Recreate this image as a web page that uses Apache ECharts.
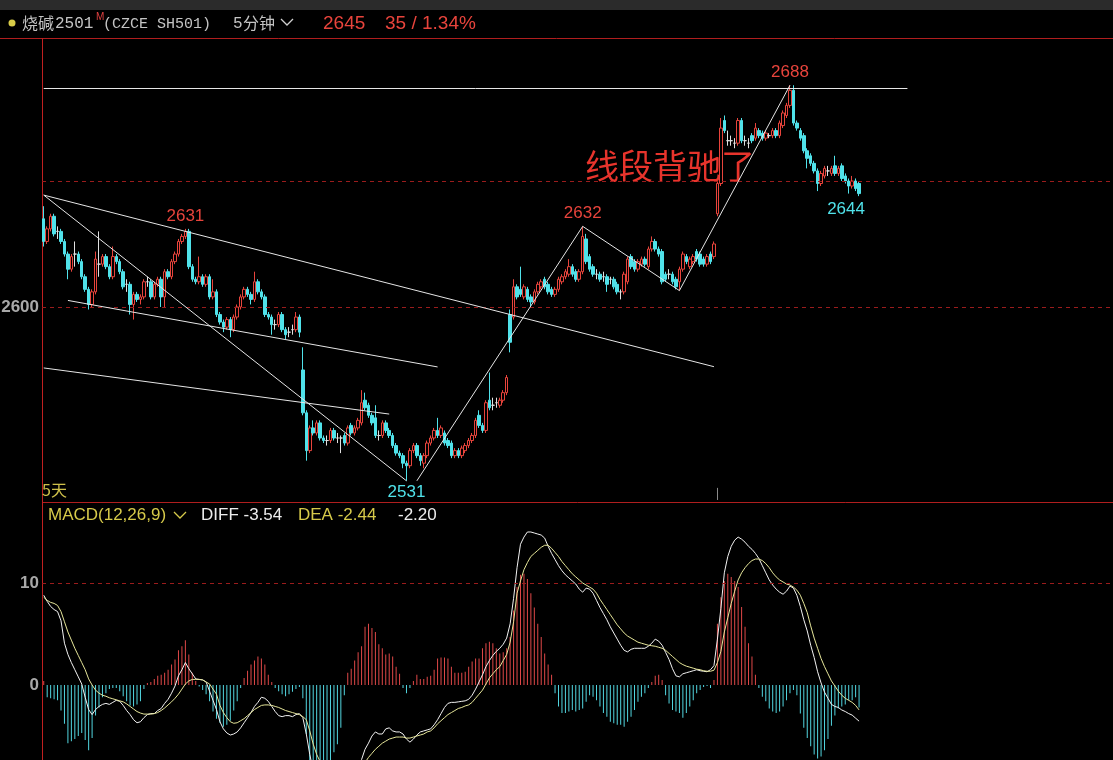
<!DOCTYPE html>
<html>
<head>
<meta charset="utf-8">
<script src="https://cdn.jsdelivr.net/npm/echarts/dist/echarts.min.js"></script>
<style>
html,body{margin:0;padding:0;background:#000;}
#chart{width:1113px;height:760px;}
</style>
</head>
<body>
<div id="chart"></div>
<script>
// ---------- DATA ----------
const SLOT_COUNT = 310; // 5-minute slots on the x axis (only the first 237 are traded so far)

const OPEN = [
2635,2626,2631,2636,2630,2630,2626,2621,2615,2621,
2621,2618,2612,2607,2601,2606,2617,2617,2620,2616,
2612,2620,2618,2614,2609,2609,2601,2605,2603,2604,
2610,2610,2604,2609,2611,2604,2614,2612,2618,2621,
2626,2628,2630,2616,2611,2610,2612,2609,2612,2604,
2606,2597,2594,2592,2595,2591,2596,2600,2604,2607,
2605,2603,2610,2606,2604,2597,2596,2593,2593,2597,
2591,2590,2591,2591,2596,2575,2558,2543,2552,2550,
2554,2548,2547,2547,2551,2548,2548,2549,2546,2553,
2550,2552,2554,2563,2561,2557,2556,2549,2549,2554,
2551,2549,2545,2542,2541,2538,2537,2543,2545,2541,
2538,2541,2546,2548,2551,2549,2550,2547,2546,2541,
2543,2541,2543,2545,2547,2549,2557,2553,2551,2563,
2561,2562,2561,2563,2566,2597,2596,2608,2607,2604,
2607,2604,2602,2606,2608,2611,2609,2607,2605,2607,
2610,2612,2613,2616,2614,2611,2614,2627,2620,2616,
2613,2613,2612,2612,2611,2611,2609,2606,2606,2610,
2620,2618,2615,2617,2619,2616,2623,2626,2623,2622,
2613,2613,2613,2611,2610,2615,2620,2616,2618,2622,
2621,2619,2617,2621,2620,2637,2649,2674,2666,2666,
2665,2665,2674,2666,2665,2668,2667,2670,2669,2667,
2668,2668,2670,2668,2672,2676,2680,2686,2673,2670,
2668,2662,2660,2657,2654,2649,2652,2654,2653,2656,
2653,2656,2652,2650,2648,2650,2649];

const CLOSE = [
2626,2631,2636,2629,2630,2626,2621,2615,2620,2621,
2618,2612,2607,2601,2606,2619,2617,2620,2616,2612,
2620,2618,2614,2608,2609,2601,2605,2603,2604,2610,
2610,2604,2609,2611,2604,2614,2612,2618,2621,2626,
2628,2630,2616,2611,2610,2612,2609,2612,2604,2606,
2597,2594,2592,2595,2591,2596,2600,2604,2607,2605,
2603,2610,2606,2604,2597,2596,2593,2593,2597,2591,
2589,2590,2591,2596,2590,2558,2543,2552,2550,2554,
2548,2547,2547,2551,2548,2548,2548,2546,2552,2550,
2552,2555,2562,2560,2557,2554,2549,2549,2554,2551,
2549,2545,2542,2541,2538,2537,2543,2545,2541,2539,
2541,2546,2548,2551,2549,2552,2546,2545,2541,2543,
2541,2544,2545,2547,2549,2555,2553,2551,2562,2560,
2561,2562,2563,2566,2572,2586,2608,2604,2605,2608,
2603,2602,2606,2609,2610,2608,2606,2605,2607,2611,
2612,2614,2616,2613,2611,2614,2628,2618,2615,2613,
2613,2611,2612,2609,2611,2608,2606,2606,2613,2619,
2616,2615,2618,2619,2617,2623,2626,2623,2621,2610,
2611,2613,2610,2608,2615,2621,2618,2619,2620,2619,
2617,2617,2620,2618,2625,2649,2671,2670,2666,2666,
2665,2674,2666,2666,2665,2666,2671,2668,2667,2669,
2668,2670,2668,2673,2677,2680,2686,2673,2671,2667,
2662,2659,2657,2654,2649,2653,2655,2654,2655,2653,
2655,2651,2650,2648,2650,2647,2645];

const LOW = [
2624,2625,2630,2628,2627,2625,2620,2611,2614,2616,
2617,2611,2606,2599,2600,2605,2612,2616,2615,2611,
2611,2617,2613,2607,2606,2597,2595,2602,2601,2603,
2608,2603,2603,2608,2600,2600,2611,2611,2617,2620,
2625,2627,2615,2610,2609,2609,2608,2608,2603,2603,
2596,2593,2590,2591,2588,2590,2595,2599,2603,2604,
2601,2602,2605,2603,2596,2595,2589,2591,2592,2590,
2587,2588,2589,2590,2588,2557,2539,2542,2549,2549,
2547,2546,2545,2546,2547,2546,2542,2545,2545,2549,
2549,2551,2553,2559,2556,2553,2548,2547,2548,2550,
2548,2544,2541,2540,2536,2531,2536,2542,2540,2537,
2536,2540,2545,2547,2548,2548,2545,2544,2540,2540,
2540,2540,2542,2544,2546,2548,2552,2550,2550,2559,
2559,2560,2560,2562,2565,2582,2595,2603,2604,2603,
2602,2600,2601,2605,2607,2607,2605,2604,2604,2606,
2609,2611,2612,2612,2610,2610,2613,2617,2614,2612,
2611,2610,2610,2606,2609,2607,2605,2603,2605,2609,
2615,2614,2614,2616,2616,2615,2622,2622,2620,2609,
2610,2611,2609,2607,2606.5,2614,2617,2615,2617,2618,
2616,2616,2616,2617,2619,2636,2648,2669,2664,2664,
2663,2664,2665,2664,2663,2665,2666,2667,2666,2666,
2667,2667,2667,2667,2671,2675,2679,2672,2670,2666,
2661,2655,2656,2653,2646,2648,2651,2652,2652,2652,
2652,2650,2649,2645,2647,2646,2644];

const HIGH = [
2640,2632,2637,2637,2632,2631,2627,2622,2621,2626,
2622,2619,2613,2608,2607,2622,2630,2621,2621,2617,
2624,2621,2619,2615,2611,2610,2606,2606,2605,2611,
2612,2611,2610,2612,2612,2615,2615,2619,2622,2627,
2629,2631,2631,2617,2612,2620,2613,2613,2613,2611,
2607,2598,2595,2596,2596,2597,2601,2605,2608,2608,
2606,2614,2611,2607,2605,2598,2597,2595,2598,2598,
2592,2592,2593,2598,2597,2584,2559,2553,2555,2555,
2555,2549,2549,2552,2552,2550,2549,2550,2553,2554,
2553,2556,2567,2566,2562,2558,2561,2551,2555,2555,
2552,2550,2546,2543,2542,2539,2544,2546,2546,2542,
2542,2547,2549,2552,2556,2553,2551,2548,2547,2544,
2544,2545,2546,2548,2550,2556,2559,2554,2563,2574,
2564,2564,2564,2567,2573,2599,2611,2609,2616,2609,
2608,2605,2607,2610,2611,2612,2610,2608,2608,2612,
2613,2615,2619,2617,2615,2615,2632,2629,2621,2617,
2615,2614,2614,2613,2612,2612,2610,2607,2614,2620,
2621,2619,2619,2620,2620,2624,2628,2627,2624,2623,
2614,2615,2614,2612,2616,2622,2621,2620,2621,2623,
2622,2620,2621,2622,2626,2650,2675,2676,2670,2668,
2667,2675,2675,2668,2667,2669,2673,2671,2670,2670,
2669,2671,2671,2674,2678,2681,2688,2688,2674,2671,
2669,2663,2661,2658,2655,2654,2656,2656,2656,2660,
2656,2657,2653,2651,2652,2651,2650];

const DIFF = [
8.8,8.2,7.7,7.4,7.2,6.3,4.1,3.0,2.2,1.5,
0.8,0.1,-1.2,-2.4,-2.9,-2.4,-2.1,-1.9,-1.8,-1.9,
-1.7,-1.5,-1.6,-2.0,-2.5,-2.9,-3.4,-3.7,-3.6,-3.2,
-2.9,-2.8,-2.8,-2.5,-2.3,-1.8,-1.4,-0.8,-0.1,0.9,
1.5,2.2,1.6,1.1,0.6,0.55,0.5,0.3,-0.6,-1.5,
-2.4,-3.6,-4.3,-4.7,-4.9,-4.8,-4.6,-4.2,-3.7,-3.2,
-2.7,-2.1,-1.7,-1.2,-1.3,-1.6,-2.1,-2.6,-3.0,-3.1,
-3.0,-3.0,-3.1,-2.9,-2.8,-3.2,-4.8,-6.8,-8.4,-9.3,
-10.0,-10.5,-10.9,-11.0,-11.0,-10.9,-10.8,-10.5,-10.0,-9.6,
-9.0,-8.4,-7.3,-6.3,-5.7,-5.0,-4.6,-4.8,-4.8,-4.3,
-4.2,-4.5,-4.6,-4.6,-4.8,-5.3,-5.6,-5.3,-4.9,-4.6,
-4.5,-4.4,-4.3,-3.9,-3.4,-2.8,-2.2,-1.8,-1.7,-1.7,
-1.65,-1.6,-1.55,-1.4,-1.0,-0.4,0.3,1.0,1.8,2.4,
2.9,3.3,3.6,4.0,4.6,6.0,8.5,11.5,13.8,14.5,
15.0,15.0,14.9,14.8,14.7,14.4,13.6,12.9,12.3,11.7,
11.2,10.8,10.5,10.2,9.9,9.4,9.1,9.5,9.4,9.0,
8.3,7.6,7.0,6.4,5.7,5.1,4.5,3.9,3.4,3.25,
3.5,3.6,3.6,3.6,3.6,3.8,4.1,4.5,4.3,3.9,
3.2,2.5,1.6,0.9,0.8,1.1,1.2,1.3,1.4,1.5,
1.4,1.35,1.3,1.5,1.9,4.5,7.5,11.0,12.6,13.6,
14.2,14.5,14.3,14.0,13.6,13.3,12.9,12.4,11.7,11.0,
10.3,9.8,9.4,9.1,8.9,9.2,9.7,9.5,8.8,7.7,
6.4,5.3,3.9,2.7,1.3,0.2,-0.7,-1.3,-1.9,-2.1,
-2.2,-2.45,-2.6,-2.8,-2.95,-3.25,-3.54];

const DEA = [
8.6,8.3,8.1,8.0,7.8,7.2,6.2,5.2,4.4,3.6,
2.9,2.2,1.5,0.6,0.0,-0.5,-0.8,-1.0,-1.1,-1.25,
-1.35,-1.45,-1.55,-1.65,-1.85,-2.1,-2.35,-2.6,-2.75,-2.85,
-2.85,-2.85,-2.8,-2.7,-2.5,-2.25,-1.95,-1.65,-1.3,-0.9,
-0.4,0.1,0.4,0.55,0.55,0.55,0.5,0.3,0.1,-0.4,
-0.9,-2.0,-2.7,-3.2,-3.6,-3.75,-3.7,-3.5,-3.3,-3.0,
-2.7,-2.4,-2.2,-2.0,-1.95,-1.95,-2.0,-2.1,-2.2,-2.35,
-2.5,-2.6,-2.7,-2.8,-2.9,-3.1,-3.4,-4.5,-5.8,-6.8,
-7.5,-8.0,-8.5,-8.9,-9.2,-9.4,-9.5,-9.6,-9.5,-9.3,
-9.0,-8.6,-8.1,-7.6,-7.1,-6.7,-6.3,-6.0,-5.7,-5.5,
-5.3,-5.2,-5.1,-5.1,-5.1,-5.2,-5.2,-5.1,-5.0,-4.9,
-4.8,-4.6,-4.5,-4.2,-3.8,-3.5,-3.2,-2.9,-2.7,-2.5,
-2.3,-2.2,-2.05,-1.95,-1.7,-1.3,-0.9,-0.5,0.1,0.7,
1.1,1.5,1.8,2.4,3.0,4.2,6.2,9.0,10.2,11.3,
12.0,12.6,12.9,13.2,13.5,13.7,13.7,13.4,13.0,12.6,
12.1,11.7,11.3,10.9,10.6,10.3,10.0,9.8,9.6,9.4,
9.0,8.4,7.9,7.4,6.9,6.4,5.9,5.5,5.1,4.8,
4.6,4.4,4.2,4.1,4.0,3.9,3.85,3.8,3.7,3.6,
3.4,3.1,2.8,2.5,2.2,2.0,1.85,1.75,1.65,1.55,
1.5,1.4,1.35,1.35,1.45,2.2,3.3,5.2,6.6,8.0,
9.2,10.3,11.0,11.5,11.9,12.2,12.35,12.35,12.2,11.9,
11.5,11.0,10.6,10.3,10.1,9.9,9.8,9.6,9.3,8.8,
8.0,7.1,5.8,4.6,3.6,2.6,1.8,1.1,0.4,-0.1,
-0.6,-1.0,-1.3,-1.5,-1.7,-2.0,-2.44];

const MACD_BAR = [
0.4,-1.2,-1.3,-1.4,-1.5,-2.5,-3.8,-5.7,-5.5,-5.3,
-5.0,-4.7,-5.4,-6.4,-5.2,-3.0,-2.2,-1.2,-0.8,-0.4,
-0.3,-0.3,-0.6,-1.1,-1.6,-2.0,-2.1,-1.9,-1.6,-0.4,
0.2,0.3,0.6,0.9,1.0,1.2,1.5,2.0,2.5,3.4,
3.8,4.4,3.0,1.2,0.4,-0.15,-0.5,-0.9,-1.6,-2.6,
-3.3,-3.7,-4.1,-3.9,-3.5,-2.5,-1.6,-0.3,0.7,1.4,
2.0,2.4,2.8,2.6,2.0,1.0,0.3,-0.3,-0.6,-0.9,
-1.1,-0.9,-0.65,-0.4,-0.2,-1.3,-4.8,-7.6,-8.5,-8.8,
-8.7,-8.4,-8.0,-7.6,-6.6,-5.8,-4.2,-1.0,1.2,1.6,
2.4,3.2,3.8,5.7,6.0,5.6,5.2,4.0,3.6,3.0,
3.1,2.8,1.8,1.1,-0.3,-0.8,-0.3,0.4,1.0,0.6,
0.6,0.8,0.9,1.5,2.6,2.7,2.7,2.6,1.8,1.2,
1.2,1.2,1.3,1.8,2.3,2.6,2.6,3.6,4.1,4.25,
4.1,3.6,3.1,3.2,3.6,4.7,7.3,9.6,10.8,10.9,
10.4,9.0,7.6,6.0,4.7,3.1,2.0,1.0,-0.8,-2.1,
-2.75,-2.75,-2.6,-2.45,-2.6,-2.45,-2.3,-1.65,-1.0,-1.15,
-1.5,-2.1,-2.75,-3.1,-3.6,-3.75,-3.9,-3.9,-4.1,-3.6,
-3.1,-2.45,-1.65,-1.15,-0.8,-0.3,0.3,0.9,1.0,0.5,
-1.0,-1.8,-2.45,-2.6,-2.75,-3.2,-2.75,-2.1,-1.5,-0.8,
-0.5,-0.2,-0.1,-0.3,0.5,6.0,8.6,10.2,10.9,10.6,
10.2,9.6,7.65,5.7,4.1,2.8,1.0,-0.3,-1.15,-1.6,
-2.3,-2.6,-2.75,-2.6,-2.1,-1.5,-0.8,-0.5,-1.0,-2.8,
-4.2,-5.2,-6.0,-6.8,-7.2,-7.0,-6.4,-5.3,-4.0,-3.0,
-2.3,-2.1,-1.9,-1.5,-1.5,-1.2,-2.2];

// price grid lines and their labels
const PRICE_GRID = [{price: 2600, label: '2600'}, {price: 2650, label: ''}];
const MACD_GRID = [{value: 10, label: '10', line: true}, {value: 0, label: '0', line: false}];

// hand-drawn trend lines: [slotIndex, price] pairs
const TREND_LINES = [
  [[0, 2644.4], [194, 2576.3]],
  [[7, 2602.6], [114, 2576.2]],
  [[0, 2575.8], [100, 2557.5]],
  [[0, 2687], [250, 2687]],
  // segment (bi) zigzag
  [[0, 2644.4], [105, 2531]],
  [[108, 2531], [156, 2632]],
  [[156, 2632], [184, 2606.5]],
  [[184, 2606.5], [216, 2688]]
];
const DAY_MARK = [[195, 2528.2], [195, 2523.4]];

// extreme labels
const PEAK_LABELS = [
  {i: 41, price: 2631, kind: 'high'},
  {i: 156, price: 2632, kind: 'high'},
  {i: 216, price: 2688, kind: 'high'},
  {i: 105, price: 2531, kind: 'low'},
  {i: 236, price: 2644, kind: 'low'}
];

// ---------- CHART ----------
const RED = '#e8443c', CYAN = '#50e2ea', GRID_RED = '#9a1c1c';
const slots = Array.from({length: SLOT_COUNT}, (_, i) => String(i));

const candleData = OPEN.map((o, i) => {
  const v = [o, CLOSE[i], LOW[i], HIGH[i]];
  if (o === CLOSE[i]) {
    return {value: v, itemStyle: {color: '#e0e0e0', color0: '#e0e0e0', borderColor: '#e0e0e0', borderColor0: '#e0e0e0'}};
  }
  return v;
});

const lineItems = [];
PRICE_GRID.forEach(g => {
  lineItems.push({
    yAxis: g.price,
    lineStyle: {color: GRID_RED, type: [4, 4], width: 1},
    label: {show: !!g.label, position: 'start', formatter: g.label, distance: 3,
            color: '#a8a8a8', fontSize: 17, fontWeight: 'bold', fontFamily: 'Liberation Sans'}
  });
});
TREND_LINES.forEach(seg => {
  lineItems.push([
    {coord: seg[0], lineStyle: {color: '#e6e6e6', width: 1, type: 'solid'}, label: {show: false}},
    {coord: seg[1], lineStyle: {color: '#e6e6e6', width: 1, type: 'solid'}, label: {show: false}}
  ]);
});
lineItems.push([
  {coord: DAY_MARK[0], lineStyle: {color: '#8a8a8a', width: 1, type: 'solid'}, label: {show: false}},
  {coord: DAY_MARK[1], lineStyle: {color: '#8a8a8a', width: 1, type: 'solid'}, label: {show: false}}
]);

const pointItems = PEAK_LABELS.map(p => ({
  coord: [p.i, p.price],
  value: p.price,
  label: {
    show: true,
    formatter: String(p.price),
    position: p.kind === 'high' ? 'top' : 'bottom',
    distance: p.kind === 'high' ? 4 : 2,
    offset: p.i === 236 ? [-13, 2] : [0, 0],
    color: p.kind === 'high' ? RED : CYAN,
    fontSize: 17,
    fontFamily: 'Liberation Sans'
  }
}));

const macdLines = MACD_GRID.map(g => ({
  yAxis: g.value,
  lineStyle: {color: g.line ? GRID_RED : 'rgba(0,0,0,0)', type: [4, 4], width: 1},
  label: {show: true, position: 'start', formatter: g.label, distance: 3,
          color: '#a8a8a8', fontSize: 17, fontWeight: 'bold', fontFamily: 'Liberation Sans'}
}));

const hiddenX = (gi) => ({
  type: 'category', gridIndex: gi, data: slots, boundaryGap: true,
  axisLine: {show: false}, axisTick: {show: false}, axisLabel: {show: false}, splitLine: {show: false}
});
const hiddenY = (gi, min, max) => ({
  type: 'value', gridIndex: gi, min: min, max: max,
  axisLine: {show: false}, axisTick: {show: false}, axisLabel: {show: false}, splitLine: {show: false}
});

const txt = (x, y, text, font, fill, extra) => Object.assign({
  type: 'text', x: x, y: y, silent: true,
  style: {text: text, font: font, fill: fill, verticalAlign: 'middle', align: 'left'}
}, extra || {});

const graphics = [
  {type: 'rect', shape: {x: 0, y: 0, width: 1113, height: 10}, style: {fill: '#2b2b2b'}, silent: true},
  {type: 'line', shape: {x1: 0, y1: 38.5, x2: 1113, y2: 38.5}, style: {stroke: '#b01e1e', lineWidth: 1}, silent: true},
  {type: 'line', shape: {x1: 42, y1: 502.5, x2: 1113, y2: 502.5}, style: {stroke: '#b01e1e', lineWidth: 1}, silent: true},
  {type: 'line', shape: {x1: 42.5, y1: 38, x2: 42.5, y2: 760}, style: {stroke: '#c02020', lineWidth: 1}, silent: true},
  {type: 'circle', shape: {cx: 12, cy: 23, r: 3.5}, style: {fill: '#d8cc48'}, silent: true},
  txt(22, 23, '烧碱', '16px "Noto Sans CJK SC"', '#c4c4c4'),
  txt(55, 24, '2501', '16px "Liberation Mono"', '#c4c4c4'),
  txt(96, 17, 'M', '10px "Liberation Sans"', '#e04040'),
  txt(103, 24, '(CZCE SH501)', '15px "Liberation Mono"', '#c4c4c4'),
  txt(233, 24, '5', '16px "Liberation Mono"', '#c4c4c4'),
  txt(243, 23, '分钟', '16px "Noto Sans CJK SC"', '#c4c4c4'),
  {type: 'polyline', shape: {points: [[281, 19], [287, 25], [293, 19]]}, style: {stroke: '#d0d0d0', lineWidth: 1.3, fill: null}, silent: true},
  txt(323, 24, '2645', '19px "Liberation Sans"', RED),
  txt(385, 24, '35 / 1.34%', '19px "Liberation Sans"', RED),
  txt(585, 166, '线段背驰了', '34px "Noto Sans CJK SC"', '#e8342c'),
  txt(42, 490, '5天', '16px "Noto Sans CJK SC"', '#cfc04a'),
  txt(48, 515, 'MACD(12,26,9)', '17px "Liberation Sans"', '#d6ca4a'),
  {type: 'polyline', shape: {points: [[174, 512], [180, 518], [186, 512]]}, style: {stroke: '#d6ca4a', lineWidth: 1.3, fill: null}, silent: true},
  txt(201, 515, 'DIFF -3.54', '17px "Liberation Sans"', '#ececec'),
  txt(298, 515, 'DEA -2.44', '17px "Liberation Sans"', '#d6ca4a'),
  txt(398, 515, '-2.20', '17px "Liberation Sans"', '#ececec')
];

const option = {
  backgroundColor: '#000',
  animation: false,
  grid: [
    {left: 42, right: 0, top: 38, height: 464},
    {left: 42, right: 0, top: 502, height: 258}
  ],
  xAxis: [hiddenX(0), hiddenX(1)],
  yAxis: [hiddenY(0, 2522.6, 2706.75), hiddenY(1, -7.35, 17.94)],
  graphic: graphics,
  series: [
    {
      type: 'candlestick', xAxisIndex: 0, yAxisIndex: 0,
      data: candleData, barWidth: 3,
      itemStyle: {color: '#000', color0: CYAN, borderColor: RED, borderColor0: CYAN, borderWidth: 1},
      markLine: {silent: true, symbol: ['none', 'none'], animation: false, data: lineItems},
      markPoint: {silent: true, symbol: 'rect', symbolSize: 1, animation: false,
                  itemStyle: {color: 'rgba(0,0,0,0)'}, data: pointItems}
    },
    {
      type: 'bar', xAxisIndex: 1, yAxisIndex: 1, data: MACD_BAR, barWidth: 1,
      itemStyle: {color: p => (p.value > 0 ? '#e04848' : '#52d6e0')},
      markLine: {silent: true, symbol: ['none', 'none'], animation: false, data: macdLines}
    },
    {
      type: 'line', xAxisIndex: 1, yAxisIndex: 1, data: DIFF, symbol: 'none',
      lineStyle: {color: '#f2f2f2', width: 1}, z: 3
    },
    {
      type: 'line', xAxisIndex: 1, yAxisIndex: 1, data: DEA, symbol: 'none',
      lineStyle: {color: '#e6e69a', width: 1}, z: 3
    }
  ]
};

const chart = echarts.init(document.getElementById('chart'), null, {renderer: 'canvas'});
chart.setOption(option);
</script>
</body>
</html>
